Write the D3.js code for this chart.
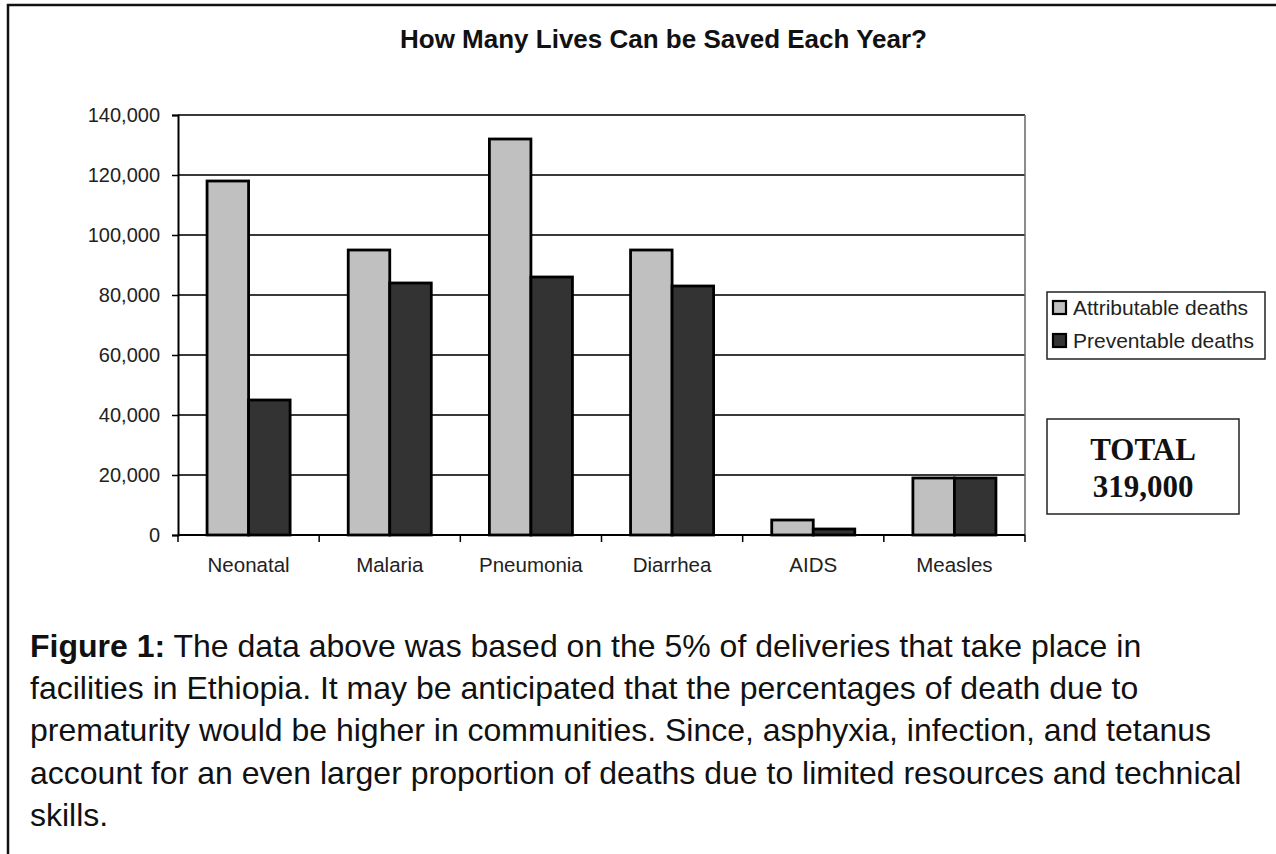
<!DOCTYPE html>
<html>
<head>
<meta charset="utf-8">
<script src="https://cdn.jsdelivr.net/npm/d3@7"></script>
<style>
  html, body { margin: 0; padding: 0; background: #fff; }
  svg { display: block; }
</style>
</head>
<body>
<svg id="chart" width="1276" height="854"></svg>
<script>
// Causes of child death and yearly counts
const categories = ["Neonatal", "Malaria", "Pneumonia", "Diarrhea", "AIDS", "Measles"];
const attributable = [118000, 95000, 132000, 95000, 5000, 19000];
const preventable = [45000, 84000, 86000, 83000, 2000, 19000];
const seriesNames = ["Attributable deaths", "Preventable deaths"];
const seriesColors = ["#c0c0c0", "#333333"];
const yTicks = [0, 20000, 40000, 60000, 80000, 100000, 120000, 140000];
const titleText = "How Many Lives Can be Saved Each Year?";
const totalLines = ["TOTAL", "319,000"];
const captionLines = [
  [["Figure 1:", true], [" The data above was based on the 5% of deliveries that take place in", false]],
  [["facilities in Ethiopia. It may be anticipated that the percentages of death due to", false]],
  [["prematurity would be higher in communities. Since, asphyxia, infection, and tetanus", false]],
  [["account for an even larger proportion of deaths due to limited resources and technical", false]],
  [["skills.", false]]
];

const svg = d3.select("#chart");
const W = 1276, H = 854;
const plot = { left: 178, right: 1025, top: 115, bottom: 535 };
const sans = "Arial, 'Liberation Sans', sans-serif";

svg.append("rect").attr("width", W).attr("height", H).attr("fill", "#fff");

// page frame (top and left rules)
svg.append("path")
  .attr("d", `M8,${H} L8,5 L${W},5`)
  .attr("fill", "none").attr("stroke", "#111").attr("stroke-width", 2.5);

const x = d3.scaleBand().domain(categories).range([plot.left, plot.right]).paddingInner(0).paddingOuter(0);
const x1 = d3.scaleBand().domain(seriesNames).range([0, x.bandwidth()]).paddingInner(0).paddingOuter(0.7);
const y = d3.scaleLinear().domain([0, 140000]).range([plot.bottom, plot.top]);

// title
svg.append("text")
  .attr("x", 400).attr("y", 48)
  .attr("text-anchor", "start")
  .attr("font-family", sans)
  .attr("font-weight", "bold").attr("font-size", 26)
  .attr("fill", "#111")
  .text(titleText);

// horizontal gridlines
svg.append("g").selectAll("line")
  .data(yTicks.filter(d => d > 0))
  .join("line")
  .attr("x1", plot.left).attr("x2", plot.right)
  .attr("y1", d => y(d)).attr("y2", d => y(d))
  .attr("stroke", "#3a3a3a").attr("stroke-width", 1.8);

// right edge of plot area
svg.append("line")
  .attr("x1", plot.right).attr("x2", plot.right)
  .attr("y1", plot.top).attr("y2", plot.bottom)
  .attr("stroke", "#666").attr("stroke-width", 1.5);

// bars
const groups = svg.append("g").selectAll("g")
  .data(categories.map((c, i) => ({ c, vals: [attributable[i], preventable[i]] })))
  .join("g")
  .attr("transform", d => `translate(${x(d.c)},0)`);

groups.selectAll("rect")
  .data(d => d.vals.map((v, j) => ({ v, s: seriesNames[j], j })))
  .join("rect")
  .attr("x", d => x1(d.s))
  .attr("y", d => y(d.v))
  .attr("width", x1.bandwidth())
  .attr("height", d => plot.bottom - y(d.v))
  .attr("fill", d => seriesColors[d.j])
  .attr("stroke", "#000").attr("stroke-width", 2.8);

// y axis
const yAxis = d3.axisLeft(y).tickValues(yTicks).tickSize(6).tickPadding(12)
  .tickFormat(d3.format(","));
const gy = svg.append("g").attr("transform", `translate(${plot.left},0)`).call(yAxis);
gy.select(".domain").attr("stroke", "#000").attr("stroke-width", 2);
gy.selectAll(".tick line").attr("stroke", "#000").attr("stroke-width", 1.5);
gy.selectAll(".tick text")
  .attr("font-family", sans)
  .attr("font-size", 20).attr("fill", "#222");

// x axis with ticks between categories
const gx = svg.append("g").attr("transform", `translate(0,${plot.bottom})`);
gx.append("line")
  .attr("x1", plot.left).attr("x2", plot.right)
  .attr("stroke", "#000").attr("stroke-width", 2);
const bounds = categories.map(c => x(c)).concat([x(categories[categories.length - 1]) + x.bandwidth()]);
gx.selectAll("line.tk").data(bounds).join("line").attr("class", "tk")
  .attr("x1", d => d).attr("x2", d => d).attr("y1", 0).attr("y2", 7)
  .attr("stroke", "#000").attr("stroke-width", 1.5);
gx.selectAll("text").data(categories).join("text")
  .attr("x", d => x(d) + x.bandwidth() / 2)
  .attr("y", 37)
  .attr("text-anchor", "middle")
  .attr("font-family", sans)
  .attr("font-size", 20.5).attr("fill", "#222")
  .text(d => d);

// legend
const lg = svg.append("g").attr("transform", "translate(1047,292)");
lg.append("rect").attr("width", 218).attr("height", 67)
  .attr("fill", "#fff").attr("stroke", "#222").attr("stroke-width", 1.5);
const li = lg.selectAll("g").data(seriesNames).join("g")
  .attr("transform", (d, i) => `translate(6,${16 + i * 33})`);
li.append("rect").attr("x", 0).attr("y", -7).attr("width", 13).attr("height", 13)
  .attr("fill", (d, i) => seriesColors[i]).attr("stroke", "#000").attr("stroke-width", 2.2);
li.append("text").attr("x", 20).attr("y", 7)
  .attr("font-family", sans)
  .attr("font-size", 21).attr("fill", "#222")
  .text(d => d);

// total box
const tb = svg.append("g").attr("transform", "translate(1047,419)");
tb.append("rect").attr("width", 192).attr("height", 95)
  .attr("fill", "#fff").attr("stroke", "#222").attr("stroke-width", 1.5);
tb.selectAll("text").data(totalLines).join("text")
  .attr("x", 96).attr("y", (d, i) => 41 + i * 37)
  .attr("text-anchor", "middle")
  .attr("font-family", "'Times New Roman', 'Liberation Serif', serif")
  .attr("font-weight", "bold").attr("font-size", 31).attr("fill", "#111")
  .text(d => d);

// caption
const cap = svg.append("text")
  .attr("font-family", sans)
  .attr("font-size", 32).attr("fill", "#111");
captionLines.forEach((line, i) => {
  line.forEach(([t, bold], k) => {
    const ts = cap.append("tspan").text(t).attr("font-weight", bold ? "bold" : "normal");
    if (k === 0) ts.attr("x", 30).attr("y", 657 + i * 42.2);
  });
});
</script>
</body>
</html>
